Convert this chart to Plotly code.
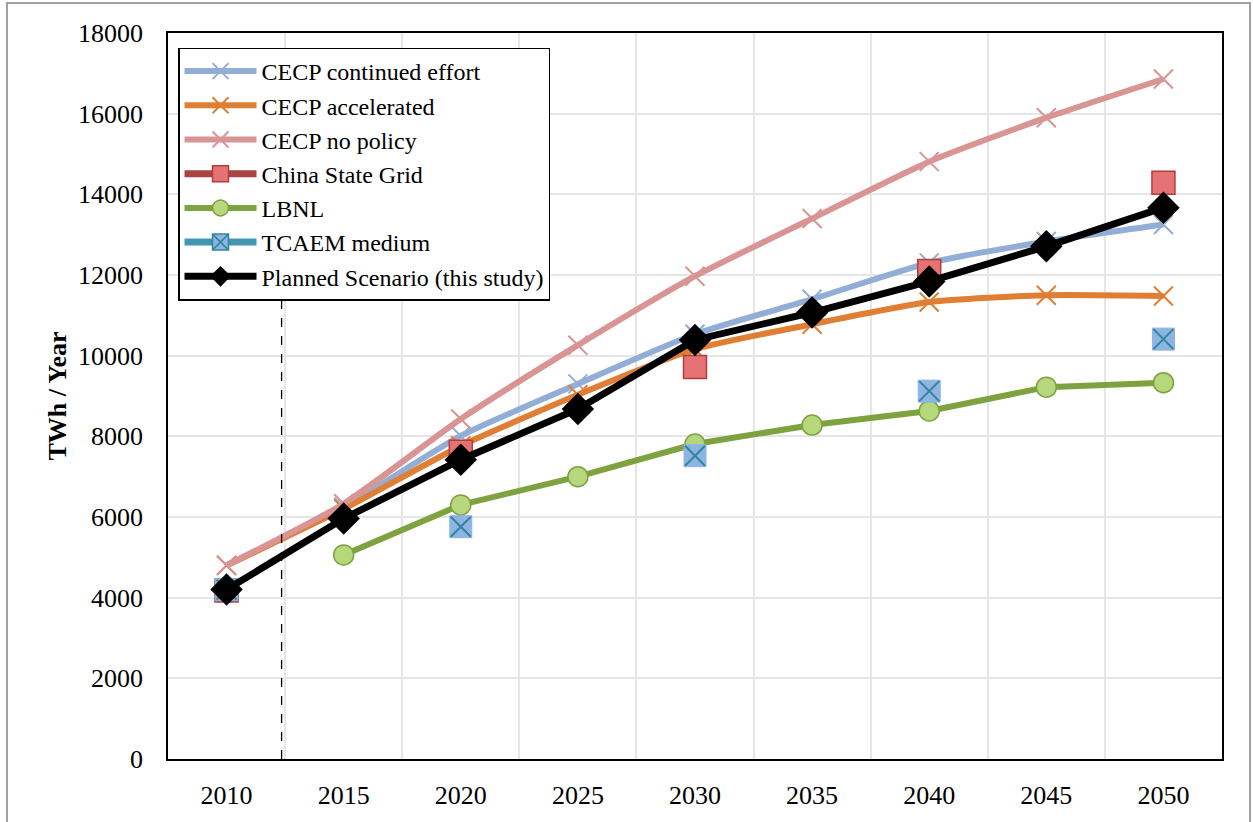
import plotly.graph_objects as go

years = ["2010", "2015", "2020", "2025", "2030", "2035", "2040", "2045", "2050"]

cecp_continued = [4800, 6250, 8010, 9300, 10530, 11400, 12300, 12830, 13250]
cecp_accelerated = [4800, 6200, 7760, 9030, 10160, 10780, 11330, 11500, 11480]
cecp_no_policy = [4800, 6330, 8430, 10260, 11970, 13400, 14810, 15900, 16860]

csg_years = ["2010", "2020", "2030", "2040", "2050"]
csg_values = [4180, 7620, 9720, 12100, 14290]

lbnl_years = ["2015", "2020", "2025", "2030", "2035", "2040", "2045", "2050"]
lbnl_values = [5060, 6300, 7000, 7810, 8280, 8630, 9220, 9330]

tcaem_years = ["2010", "2020", "2030", "2040", "2050"]
tcaem_values = [4200, 5760, 7520, 9120, 10410]

planned = [4200, 5960, 7420, 8680, 10390, 11070, 11840, 12710, 13670]

FONT = "Liberation Serif"
FS = 26
LFS = 24
fig = go.Figure()

def cecp(name, y, color):
    fig.add_trace(go.Scatter(
        x=years, y=y, name=name, mode="lines+markers",
        line=dict(color=color, width=6, shape="spline", smoothing=0.6),
        marker=dict(symbol="x-thin-open", size=19, line=dict(color=color, width=2), color=color),
    ))

cecp("CECP continued effort", cecp_continued, "#93AED6")
cecp("CECP accelerated", cecp_accelerated, "#E07E34")
cecp("CECP no policy", cecp_no_policy, "#D99594")

# China State Grid: markers only in plot, line in legend
fig.add_trace(go.Scatter(
    x=csg_years, y=csg_values, mode="markers", showlegend=False, legendgroup="csg",
    marker=dict(symbol="square", size=23, color="#E57373", line=dict(color="#B03F3C", width=1.5)),
))
fig.add_trace(go.Scatter(
    x=[None], y=[None], name="China State Grid", mode="lines+markers", legendgroup="csg",
    line=dict(color="#A94442", width=7),
    marker=dict(symbol="square", size=17, color="#E57373", line=dict(color="#B03F3C", width=1.5)),
))

fig.add_trace(go.Scatter(
    x=lbnl_years, y=lbnl_values, name="LBNL", mode="lines+markers",
    line=dict(color="#7EA23F", width=6),
    marker=dict(symbol="circle", size=20, color="#B6D77C", line=dict(color="#7EA23F", width=1.5)),
))

# TCAEM medium
fig.add_trace(go.Scatter(
    x=tcaem_years, y=tcaem_values, mode="markers", showlegend=False, legendgroup="tc",
    marker=dict(symbol="square", size=22, color="#8DB4E2", line=dict(color="#8DB4E2", width=1)),
))
fig.add_trace(go.Scatter(
    x=tcaem_years, y=tcaem_values, mode="markers", showlegend=False, legendgroup="tc",
    marker=dict(symbol="x-thin-open", size=20, color="#31859C", line=dict(color="#31859C", width=2)),
))
fig.add_trace(go.Scatter(
    x=[None], y=[None], name="TCAEM medium", mode="lines+markers", legendgroup="tc",
    line=dict(color="#4197AF", width=7),
    marker=dict(symbol="square-x", size=17, color="#8DB4E2", line=dict(color="#31859C", width=1.5)),
))

fig.add_trace(go.Scatter(
    x=years, y=planned, name="Planned Scenario (this study)", mode="lines+markers",
    line=dict(color="black", width=7),
    marker=dict(symbol="diamond", size=25, color="black"),
))

# dashed vertical line
fig.add_shape(type="line", xref="x", yref="y", x0=0.47, x1=0.47, y0=0, y1=11900,
              line=dict(color="black", width=1.3, dash="dash"), layer="above")
# outer frame
fig.add_shape(type="rect", xref="paper", yref="paper", x0=-0.1528, x1=1.0266, y0=-0.1, y1=1.0412,
              line=dict(color="#A0A0A0", width=2), fillcolor="rgba(0,0,0,0)")

fig.update_layout(
    width=1253, height=822,
    margin=dict(l=168, r=31, t=33, b=61),
    paper_bgcolor="white", plot_bgcolor="white",
    font=dict(family=FONT, size=FS, color="black"),
    showlegend=True,
    legend=dict(x=0.0095, y=0.98, xanchor="left", yanchor="top",
                bgcolor="white", bordercolor="black", borderwidth=1.5,
                font=dict(family=FONT, size=LFS), tracegroupgap=0, itemwidth=72,
                traceorder="normal"),
    xaxis=dict(type="category", categoryorder="array", categoryarray=years,
               tickson="boundaries", showgrid=True, gridcolor="#E6E6E6", gridwidth=1.5,
               showline=True, linecolor="black", linewidth=1.5, mirror=True,
               ticks="", ticklabelstandoff=12, range=[-0.5, 8.5],
               tickfont=dict(family=FONT, size=FS)),
    yaxis=dict(range=[0, 18000], dtick=2000, tickformat="d",
               showgrid=True, gridcolor="#E6E6E6", gridwidth=1.5,
               showline=True, linecolor="black", linewidth=1.5, mirror=True,
               ticks="", ticklabelstandoff=18, zeroline=False,
               tickfont=dict(family=FONT, size=FS),
               title=dict(text="<b>TWh / Year</b>", font=dict(family=FONT, size=26), standoff=4)),
)

fig.write_html("out.html", config={"displayModeBar": False},
               post_script="document.body.style.margin='0';document.body.style.overflow='hidden';")
